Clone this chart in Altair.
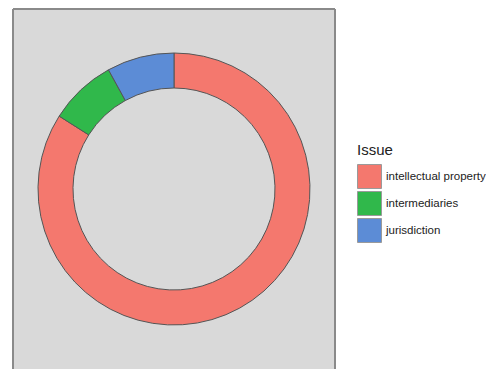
import altair as alt
import pandas as pd

issues = ["intellectual property", "intermediaries", "jurisdiction"]
counts = [21, 2, 2]
colors = ["#F4786E", "#30B84B", "#5C8CD6"]

df = pd.DataFrame({"Issue": issues, "n": counts})

W, H = 322, 361
FONT = "Liberation Sans"

arc = alt.Chart(df).mark_arc(
    outerRadius=136, innerRadius=101, stroke="#555555", strokeWidth=1
).encode(
    theta=alt.Theta("n:Q", stack=True),
    color=alt.Color(
        "Issue:N",
        scale=alt.Scale(domain=issues, range=colors),
        legend=alt.Legend(
            title="Issue",
            orient="none",
            legendX=344,
            legendY=134,
            titleFont=FONT,
            titleFontSize=15,
            titleFontWeight="normal",
            titleColor="#222222",
            titlePadding=6,
            labelFont=FONT,
            labelFontSize=11.5,
            labelColor="#222222",
            labelOffset=4,
            symbolType="square",
            symbolSize=576,
            symbolStrokeColor="#9a9a9a",
            symbolStrokeWidth=1,
            symbolOpacity=1,
            rowPadding=-5,
        ),
    ),
    order=alt.Order("Issue:N"),
    x=alt.value(W / 2),
    y=alt.value(180),
)

one = pd.DataFrame({"k": [0]})
border_col = "#8a8a8a"
left = alt.Chart(one).mark_rule(color=border_col, strokeWidth=2).encode(
    x=alt.value(0), y=alt.value(0), y2=alt.value(H + 5)
)
right = alt.Chart(one).mark_rule(color=border_col, strokeWidth=2).encode(
    x=alt.value(W), y=alt.value(0), y2=alt.value(H + 5)
)
top = alt.Chart(one).mark_rule(color=border_col, strokeWidth=2).encode(
    x=alt.value(0), x2=alt.value(W), y=alt.value(0)
)

chart = (
    alt.layer(arc, left, right, top)
    .properties(
        width=W,
        height=H,
        padding={"left": 12, "top": 8, "right": 0, "bottom": 0},
        background="white",
    )
    .configure_view(fill="#D9D9D9", strokeWidth=0)
)

chart.save("out.html", embed_options={"renderer": "svg", "actions": False})
